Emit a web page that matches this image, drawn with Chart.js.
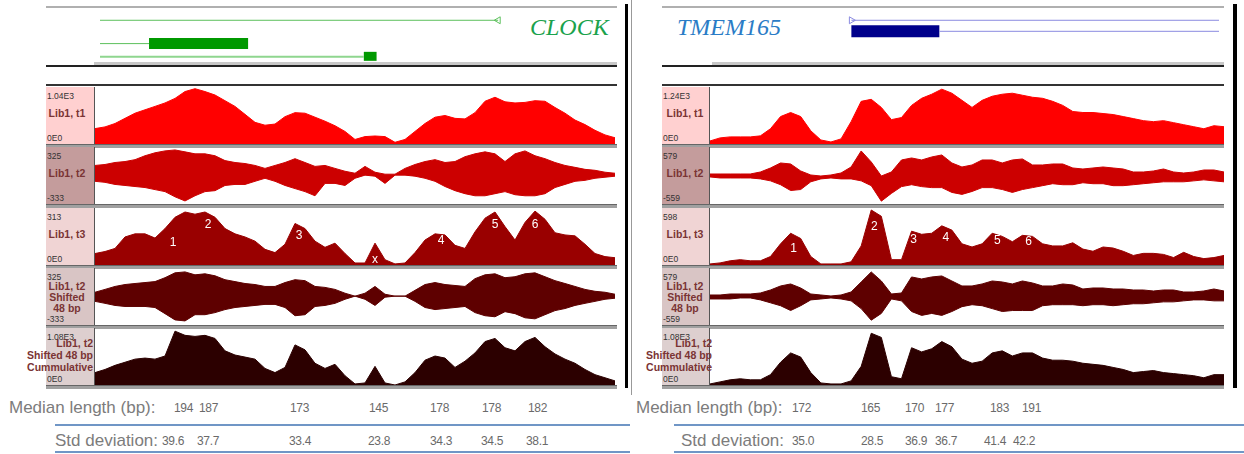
<!DOCTYPE html>
<html>
<head>
<meta charset="utf-8">
<script src="https://cdn.jsdelivr.net/npm/chart.js@4.4.1/dist/chart.umd.min.js"></script>
<style>
  body { margin: 0; background: #fff; width: 1244px; height: 454px; overflow: hidden; position: relative;
         font-family: "Liberation Sans", Arial, sans-serif; }
  div, canvas { position: absolute; }
  .box { box-sizing: border-box; border-right: 1px solid #555; }
  .name { font-weight: bold; font-size: 10.5px; line-height: 12px; color: #7a3434; white-space: nowrap; }
  .tick { font-size: 8.5px; color: #333; line-height: 9px; }
  .gname { font-family: "Liberation Serif", serif; font-style: italic; font-size: 24px; line-height: 28px; }
  .stat { color: #7c7c7c; font-size: 17px; line-height: 18px; white-space: nowrap; }
  .val { color: #6a6a6a; font-size: 12px; line-height: 14px; white-space: nowrap; letter-spacing: -0.3px; }
</style>
</head>
<body>
<script>
// ---------- CLOCK (left) ----------
const clockT1 = [281,312,374,468,562,624,686,749,832,957,1009,957,894,790,686,541,395,343,364,499,
  572,562,489,416,333,229,83,135,146,135,31,83,229,374,489,520,468,458,572,780,
  853,770,749,759,790,780,666,562,437,354,250,166,114];
const clockT2Plus = [112,123,146,157,179,224,258,280,291,269,246,246,224,168,146,134,112,78,112,146,
  190,146,101,112,78,45,22,101,34,11,11,78,123,157,179,146,157,213,246,269,
  246,157,246,280,224,190,146,112,90,67,56,34,22];
const clockT2Minus = [-71,-83,-107,-119,-131,-143,-167,-190,-250,-298,-238,-190,-179,-119,-107,-107,-71,-36,-71,-119,
  -155,-190,-238,-95,-95,-119,-36,0,-12,-95,0,0,-12,-36,-71,-131,-179,-214,-238,-238,
  -214,-190,-226,-238,-238,-214,-143,-107,-71,-60,-36,-24,-12];
const clockT3 = [63,74,91,154,171,171,148,200,262,291,279,291,262,200,171,154,131,86,68,114,
  228,200,131,97,120,63,11,11,120,29,6,11,68,137,171,165,108,91,182,257,
  291,211,137,234,296,251,177,165,160,114,63,46,40];
const clockT4Plus = [45,78,112,134,146,157,168,213,269,280,246,258,235,190,168,146,134,112,112,157,
  190,179,112,101,78,34,0,34,112,22,0,0,67,134,157,134,123,112,202,246,
  258,213,224,258,269,224,179,146,112,78,56,45,22];
const clockT4Minus = [-60,-83,-107,-119,-119,-119,-131,-202,-274,-286,-214,-214,-190,-155,-131,-119,-107,-95,-95,-131,
  -226,-214,-119,-107,-83,-36,0,-36,-107,-12,0,0,-60,-131,-155,-143,-131,-119,-190,-226,
  -238,-179,-202,-250,-262,-214,-167,-143,-107,-83,-60,-36,-24];
const clockT5 = [235,294,372,431,490,510,490,549,1020,941,921,941,882,647,568,529,490,314,235,333,
  760,666,412,314,392,176,20,39,353,39,0,59,235,470,549,510,333,451,608,823,
  882,706,647,823,902,725,588,490,412,294,196,137,78];
const clockMax = [1040, 325, 313, 325, 1080];
const clockMin = [0, -333, 0, -333, 0];
const clockTickText = [['1.04E3','0E0'], ['325','-333'], ['313','0E0'], ['325','-333'], ['1.08E3','0E0']];
const clockPeakNames = ['1','2','3','x','4','5','6'];
const clockPeakAt = [7.8, 11.3, 20.4, 28, 34.6, 40, 44];
const clockPeakY = [125, 222, 160, 28, 135, 222, 222];
const clockMedian = ['194','187','173','145','178','178','182'];
const clockStd = ['39.6','37.7','33.4','23.8','34.3','34.5','38.1'];
const clockIntronFrom = [0, 0, 0];
const clockIntronTo = [40.6, 5.0, 26.9];
const clockExonFrom = [5.0, 26.9];
const clockExonTo = [15.1, 28.2];

// ---------- TMEM165 (right) ----------
const tmemT1 = [66,133,155,155,155,177,332,597,685,597,287,88,44,111,486,928,972,796,530,575,
  840,994,1083,1193,1105,950,796,950,1039,1083,1105,1061,1017,994,928,840,707,685,685,663,
  641,597,553,508,486,508,464,420,376,332,398,376];
const tmemT2Plus = [40,40,40,40,40,80,160,260,240,100,20,0,20,60,180,500,280,0,80,320,
  360,320,380,420,260,180,220,320,320,260,320,340,220,220,240,240,160,140,160,180,
  160,140,80,80,100,140,80,60,80,120,120,80];
const tmemT2Minus = [-19,-39,-39,-39,-39,-58,-97,-174,-290,-270,-116,-58,-39,-58,-58,-97,-193,-502,-347,-212,
  -174,-212,-232,-232,-328,-367,-309,-232,-232,-270,-328,-270,-232,-193,-154,-174,-174,-135,-154,-154,
  -193,-193,-174,-154,-135,-116,-116,-116,-97,-77,-97,-116];
const tmemT3 = [11,22,44,56,44,44,89,222,333,278,89,11,11,11,33,200,577,511,56,56,
  355,322,333,411,366,222,189,222,333,300,244,311,300,222,200,200,233,167,144,189,
  178,144,100,122,122,111,78,133,89,67,78,100];
const tmemT4Plus = [40,40,60,60,60,80,140,220,260,180,60,40,20,40,100,300,500,320,60,80,
  400,360,400,420,320,220,220,260,320,300,260,320,280,220,220,260,240,160,180,180,
  160,160,140,140,120,140,140,100,100,120,160,120];
const tmemT4Minus = [-39,-39,-39,-19,-19,-58,-116,-174,-270,-174,-58,-39,-19,-39,-77,-232,-463,-328,-39,-77,
  -290,-367,-328,-367,-290,-193,-154,-174,-232,-290,-270,-270,-270,-174,-154,-154,-154,-174,-154,-154,
  -174,-154,-135,-135,-116,-97,-97,-77,-58,-58,-77,-77];
const tmemT5 = [20,59,98,118,98,98,196,431,608,529,235,39,20,20,78,353,980,902,157,118,
  706,627,686,823,725,490,412,451,608,647,549,608,608,510,470,470,451,412,392,372,
  333,294,235,255,274,235,216,196,176,137,196,196];
const tmemMax = [1240, 579, 598, 579, 1080];
const tmemMin = [0, -559, 0, -559, 0];
const tmemTickText = [['1.24E3','0E0'], ['579','-559'], ['598','0E0'], ['579','-559'], ['1.08E3','0E0']];
const tmemPeakNames = ['1','2','3','4','5','6'];
const tmemPeakAt = [8.3, 16.3, 20.2, 23.4, 28.5, 31.6];
const tmemPeakY = [170, 400, 265, 285, 250, 245];
const tmemMedian = ['172','165','170','177','183','191'];
const tmemStd = ['35.0','28.5','36.9','36.7','41.4','42.2'];
const tmemIntronFrom = [13.8, 22.7];
const tmemIntronTo = [51, 51];
const tmemExonFrom = [13.8];
const tmemExonTo = [22.7];

const trackNames = [['Lib1, t1'], ['Lib1, t2'], ['Lib1, t3'], ['Lib1, t2', 'Shifted', '48 bp'],
  ['Lib1, t2', 'Shifted 48 bp', 'Cummulative']];
const trackColors = ['#ff0000', '#cc0000', '#990000', '#5e0000', '#2c0000'];
const boxColors = ['#ffd0d0', '#c49c9c', '#f0d4d4', '#d9c5c5', '#ddcfcf'];
const trackTops = [87, 147, 208, 268, 328];
const trackH = 57;

function el(cls, x, y, w, h, css) {
  const d = document.createElement('div');
  if (cls) d.className = cls;
  d.style.left = x + 'px'; d.style.top = y + 'px';
  if (w != null) d.style.width = w + 'px';
  if (h != null) d.style.height = h + 'px';
  Object.assign(d.style, css || {});
  document.body.appendChild(d);
  return d;
}
function canvasAt(x, y, w, h) {
  const c = document.createElement('canvas');
  c.width = w; c.height = h;
  c.style.left = x + 'px'; c.style.top = y + 'px';
  c.style.width = w + 'px'; c.style.height = h + 'px';
  document.body.appendChild(c);
  return c;
}

const peakPlugin = {
  id: 'peaks',
  afterDatasetsDraw(chart) {
    const p = chart.options.plugins.peaks;
    if (!p || !p.names) return;
    const ctx = chart.ctx;
    ctx.save();
    ctx.fillStyle = '#fff';
    ctx.font = '12px "Liberation Sans", Arial';
    ctx.textAlign = 'center';
    ctx.textBaseline = 'middle';
    p.names.forEach((n, i) => {
      ctx.fillText(n, chart.scales.x.getPixelForValue(p.at[i]), chart.scales.y.getPixelForValue(p.y[i]));
    });
    ctx.restore();
  }
};

function areaChart(canvas, series, min, max, color, peaks) {
  const two = series.length > 1;
  return new Chart(canvas, {
    type: 'line',
    data: {
      labels: series[0].map((_, i) => i),
      datasets: series.map((s, i) => ({
        data: s, borderColor: color, backgroundColor: color, borderWidth: 1,
        fill: two ? (i === 0 ? '+1' : false) : 'origin', pointRadius: 0, tension: 0
      }))
    },
    options: {
      responsive: false, animation: false, devicePixelRatio: 1,
      layout: { padding: 0 },
      plugins: { legend: { display: false }, tooltip: { enabled: false }, peaks: peaks || {} },
      scales: {
        x: { display: false, offset: false },
        y: { display: false, min: min, max: max }
      }
    },
    plugins: [peakPlugin]
  });
}

function geneChart(canvas, n, lines, marks) {
  const sets = lines.map(l => ({
    data: [{ x: l.from, y: l.row }, { x: l.to, y: l.row }],
    borderColor: l.color, borderWidth: l.width, borderCapStyle: 'butt',
    pointRadius: 0, fill: false, tension: 0
  }));
  marks.forEach(m => sets.push({
    data: [{ x: m.x, y: m.row }], showLine: false, pointStyle: 'triangle', rotation: m.rot,
    pointRadius: 4, pointBackgroundColor: '#fff', pointBorderColor: m.color, pointBorderWidth: 1
  }));
  return new Chart(canvas, {
    type: 'line',
    data: { datasets: sets },
    options: {
      responsive: false, animation: false, devicePixelRatio: 1,
      layout: { padding: 0 },
      plugins: { legend: { display: false }, tooltip: { enabled: false } },
      scales: {
        x: { type: 'linear', display: false, min: 0, max: n - 1 },
        y: { type: 'linear', display: false, min: 0, max: 66, reverse: true }
      }
    }
  });
}

function panel(cfg) {
  const x0 = cfg.boxX, x1 = cfg.frameR;
  el('', x0, 6, x1 - x0, 2, { background: '#b0b0b0' });
  el('', cfg.shadeX, 62, x1 - cfg.shadeX, 3, { background: '#c8c8c8' });
  el('', x0, 65, x1 - x0, 2, { background: '#222' });
  el('', x0, 84, x1 - x0, 2, { background: '#333' });
  const g = el('gname', cfg.titleX, 13, null, null, { color: cfg.titleColor });
  g.textContent = cfg.title;

  geneChart(canvasAt(cfg.plotX, 0, cfg.plotW, 66), cfg.series[0][0].length, cfg.gene, cfg.marks);

  cfg.series.forEach((s, t) => {
    const top = trackTops[t];
    el('', x0, top + trackH, x1 - x0, 3, { background: '#a0a0a0', borderTop: '1px solid #666' });
    el('box', x0, top, cfg.plotX - x0, trackH, { background: boxColors[t] });
    el('tick', x0 + 1, top + 5).textContent = cfg.ticks[t][0];
    el('tick', x0 + 1, top + trackH - 10).textContent = cfg.ticks[t][1];
    const names = trackNames[t];
    if (t < 4) {
      const nm = el('name', cfg.nameX - 25, top + (t === 3 ? 13 : 20), 50, null,
        { textAlign: 'center', lineHeight: t === 3 ? '11px' : '12px' });
      nm.innerHTML = names.join('<br>');
    } else {
      const nm = el('name', cfg.nameR - 90, top + 9, 90, null, { textAlign: 'right' });
      nm.innerHTML = names.join('<br>');
    }
    const peaks = t === 2 ? cfg.peaks : null;
    areaChart(canvasAt(cfg.plotX, top, cfg.plotW, trackH), s, cfg.min[t], cfg.max[t], trackColors[t], peaks);
  });

  // stats table
  el('stat', cfg.medLabelX, 399, null, null, { fontSize: cfg.statSize + 'px' }).textContent = 'Median length (bp):';
  el('stat', cfg.stdLabelX, 432, null, null, { fontSize: cfg.statSize + 'px' }).textContent = 'Std deviation:';
  cfg.median.forEach((v, i) => { el('val', cfg.medX[i], 401).textContent = v; });
  cfg.std.forEach((v, i) => { el('val', cfg.stdX[i], 434).textContent = v; });
  el('', cfg.lineX, 424, cfg.lineR - cfg.lineX, 2, { background: '#7096c6' });
  el('', cfg.lineX, 451, cfg.lineR - cfg.lineX, 2, { background: '#7096c6' });
}

panel({
  boxX: 46, plotX: 95, plotW: 520, frameR: 617, shadeX: 94,
  title: 'CLOCK', titleX: 530, titleColor: '#1ba24c',
  nameX: 67, nameR: 93,
  series: [[clockT1], [clockT2Plus, clockT2Minus], [clockT3], [clockT4Plus, clockT4Minus], [clockT5]],
  min: clockMin, max: clockMax, ticks: clockTickText,
  peaks: { names: clockPeakNames, at: clockPeakAt, y: clockPeakY },
  gene: [
    { from: clockIntronFrom[0], to: clockIntronTo[0], row: 18, width: 1, color: '#5cc05c' },
    { from: clockIntronFrom[1], to: clockIntronTo[1], row: 45.5, width: 1, color: '#5cc05c' },
    { from: clockIntronFrom[2], to: clockIntronTo[2], row: 61, width: 2, color: '#8fd68f' },
    { from: clockExonFrom[0], to: clockExonTo[0], row: 45.5, width: 11, color: '#009900' },
    { from: clockExonFrom[1], to: clockExonTo[1], row: 60.5, width: 9, color: '#009900' }
  ],
  marks: [{ x: clockIntronTo[0], row: 18, rot: -90, color: '#5cc05c' }],
  median: clockMedian, std: clockStd, statSize: 17,
  medLabelX: 9, stdLabelX: 55,
  medX: [174, 199, 290, 369, 430, 482, 528], stdX: [162, 197, 289, 368, 430, 481, 526],
  lineX: 55, lineR: 630
});

panel({
  boxX: 662, plotX: 710, plotW: 514, frameR: 1224, shadeX: 712,
  title: 'TMEM165', titleX: 677, titleColor: '#2a7cc6',
  nameX: 685, nameR: 712,
  series: [[tmemT1], [tmemT2Plus, tmemT2Minus], [tmemT3], [tmemT4Plus, tmemT4Minus], [tmemT5]],
  min: tmemMin, max: tmemMax, ticks: tmemTickText,
  peaks: { names: tmemPeakNames, at: tmemPeakAt, y: tmemPeakY },
  gene: [
    { from: tmemIntronFrom[0], to: tmemIntronTo[0], row: 18, width: 1, color: '#8a8ae0' },
    { from: tmemIntronFrom[1], to: tmemIntronTo[1], row: 31, width: 1, color: '#8a8ae0' },
    { from: tmemExonFrom[0], to: tmemExonTo[0], row: 31, width: 12, color: '#00008b' }
  ],
  marks: [{ x: tmemIntronFrom[0], row: 18, rot: 90, color: '#8a8ae0' }],
  median: tmemMedian, std: tmemStd, statSize: 17,
  medLabelX: 636, stdLabelX: 681,
  medX: [792, 861, 905, 935, 990, 1022], stdX: [792, 861, 905, 935, 984, 1013],
  lineX: 674, lineR: 1244
});

// panel frames
el('', 625, 4, 3, 384, { background: '#000' });
el('', 631, 0, 1, 395, { background: '#999' });
el('', 1233, 4, 4, 384, { background: '#000' });
</script>
</body>
</html>
